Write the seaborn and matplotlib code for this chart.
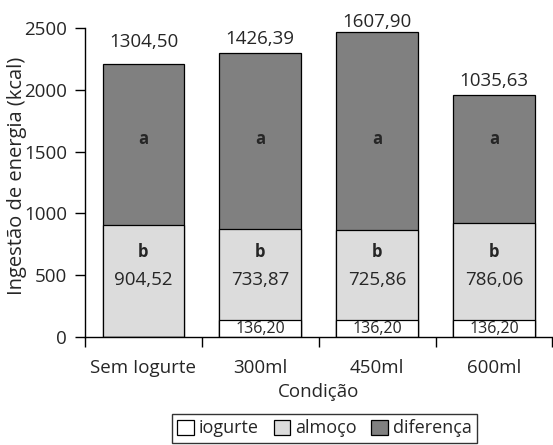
import matplotlib
matplotlib.use("Agg")
import matplotlib.pyplot as plt
import seaborn as sns
import pandas as pd
import numpy as np
from matplotlib.patches import Patch

categorias = ["Sem Iogurte", "300ml", "450ml", "600ml"]
rotulos_x = ["Sem Iogurte", "300ml", "450ml", "600ml"]
iogurte = [0.0, 136.20, 136.20, 136.20]
almoco = [904.52, 733.87, 725.86, 786.06]
diferenca = [1304.50, 1426.39, 1607.90, 1035.63]
letras_dif = ["a", "a", "a", "a"]
letras_alm = ["b", "b", "b", "b"]
series = ["iogurte", "almoço", "diferença"]

sns.set_theme(style="white")
plt.rcParams["font.family"] = ["Open Sans", "DejaVu Sans"]

fs = 13.5
df = pd.DataFrame({"cond": categorias, "iog": iogurte, "alm": almoco, "dif": diferenca})
df["c1"] = df["iog"]
df["c2"] = df["iog"] + df["alm"]
df["c3"] = df["c2"] + df["dif"]

fig = plt.figure(figsize=(5.53, 4.45), dpi=100)
ax = fig.add_axes([85/553, 1-337/445, 1-85/553-0.001, (337-28)/445])

cores = ["#ffffff", "#dcdcdc", "#808080"]
for col, cor in zip(["c3", "c2", "c1"], cores[::-1]):
    sns.barplot(data=df, x="cond", y=col, order=categorias, color=cor, width=0.7,
                edgecolor="black", linewidth=0.9, saturation=1, ax=ax, errorbar=None)

ax.set_ylim(0, 2500)
ax.set_xlim(-0.5, 3.5)
ax.set_yticks([0, 500, 1000, 1500, 2000, 2500])
ax.set_xticks(range(4))
ax.set_xticklabels(rotulos_x)
ax.set_ylabel("Ingestão de energia (kcal)", fontsize=14.5)
ax.yaxis.set_label_coords(-0.125, 0.52)
ax.set_xlabel("Condição", fontsize=fs, labelpad=4)
ax.tick_params(axis="y", labelsize=fs, length=7, width=1, color="black", direction="out", left=True, pad=6)
ax.tick_params(axis="x", labelsize=fs, length=0, pad=16)
# boundary ticks on x axis
ax.set_xticks(np.arange(-0.5, 4.0, 1.0), minor=True)
ax.tick_params(axis="x", which="minor", length=7, width=1, color="black", direction="out", bottom=True)
for s in ["top", "right"]:
    ax.spines[s].set_visible(False)
for s in ["left", "bottom"]:
    ax.spines[s].set_color("black")
    ax.spines[s].set_linewidth(1)

# annotations
offsets_topo = [175, 115, 80, 110]
for i in range(4):
    total = df["c3"][i]
    ax.text(i, total + offsets_topo[i], f"{diferenca[i]:.2f}".replace(".", ","),
            ha="center", va="center", fontsize=fs)
    ax.text(i, 1600, letras_dif[i], ha="center", va="center", fontsize=12, fontweight="bold")
    ax.text(i, 690, letras_alm[i], ha="center", va="center", fontsize=12, fontweight="bold")
    ax.text(i, 463, f"{almoco[i]:.2f}".replace(".", ","), ha="center", va="center", fontsize=fs)
    if iogurte[i] > 0:
        ax.text(i, 62, f"{iogurte[i]:.2f}".replace(".", ","), ha="center", va="center", fontsize=11.5)

handles = [Patch(facecolor=c, edgecolor="black", linewidth=0.9) for c in cores]
leg = fig.legend(handles, series, loc="upper left", bbox_to_anchor=(172/553, 1-414/445),
                 ncol=3, frameon=True, fontsize=fs-0.5, handlelength=0.9, handleheight=0.9,
                 handletextpad=0.3, columnspacing=0.8, borderpad=0.3, fancybox=False,
                 borderaxespad=0)
leg.get_frame().set_edgecolor("black")
leg.get_frame().set_linewidth(1)

fig.savefig("out.png", dpi=100)
